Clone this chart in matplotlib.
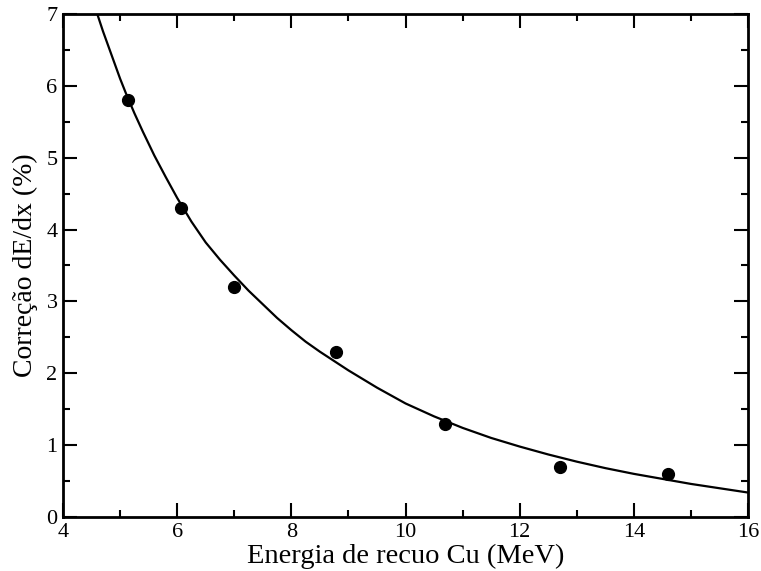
import matplotlib
matplotlib.use("Agg")
import matplotlib.pyplot as plt
from matplotlib.ticker import MultipleLocator

# measured points
energia = [5.13, 6.06, 7.0, 8.79, 10.69, 12.7, 14.6]
correcao = [5.80, 4.30, 3.20, 2.30, 1.30, 0.70, 0.60]

# fitted curve
curva_x = [4.6, 4.7, 4.8, 4.9, 5.0, 5.1, 5.25, 5.4, 5.6, 5.8, 6.0, 6.25, 6.5,
           6.75, 7.0, 7.25, 7.5, 7.75, 8.0, 8.25, 8.5, 8.75, 9.0, 9.25, 9.5,
           9.75, 10.0, 10.5, 11.0, 11.5, 12.0, 12.5, 13.0, 13.5, 14.0, 14.5,
           15.0, 15.5, 16.0]
curva_y = [7.00, 6.76, 6.54, 6.32, 6.10, 5.90, 5.62, 5.36, 5.03, 4.73, 4.44,
           4.11, 3.82, 3.58, 3.36, 3.15, 2.96, 2.77, 2.60, 2.44, 2.30, 2.17,
           2.04, 1.92, 1.80, 1.69, 1.58, 1.40, 1.24, 1.10, 0.98, 0.87, 0.77,
           0.68, 0.60, 0.53, 0.46, 0.40, 0.34]

plt.rcParams['font.family'] = ['Liberation Serif', 'DejaVu Serif']

fig = plt.figure(figsize=(7.61, 5.71), dpi=100)
ax = fig.add_axes([0.0828, 0.0946, 0.9002, 0.8809])

ax.plot(curva_x, curva_y, color='black', lw=1.6, zorder=2,
        solid_joinstyle='round')
ax.plot(energia, correcao, 'o', color='black', ms=8.5, zorder=3)

ax.set_xlim(4, 16)
ax.set_ylim(0, 7)
ax.xaxis.set_major_locator(MultipleLocator(2))
ax.xaxis.set_minor_locator(MultipleLocator(1))
ax.yaxis.set_major_locator(MultipleLocator(1))
ax.yaxis.set_minor_locator(MultipleLocator(0.5))
ax.tick_params(which='both', direction='in', top=True, right=True,
               width=1.5, labelsize=16, pad=4)
ax.tick_params(which='major', length=10)
ax.tick_params(which='minor', length=5)
for s in ax.spines.values():
    s.set_linewidth(2)

ax.set_xlabel("Energia de recuo Cu (MeV)", fontsize=20.5, labelpad=2)
ax.set_ylabel("Correção dE/dx (%)", fontsize=20, labelpad=6)

fig.savefig("out.png", dpi=100)
